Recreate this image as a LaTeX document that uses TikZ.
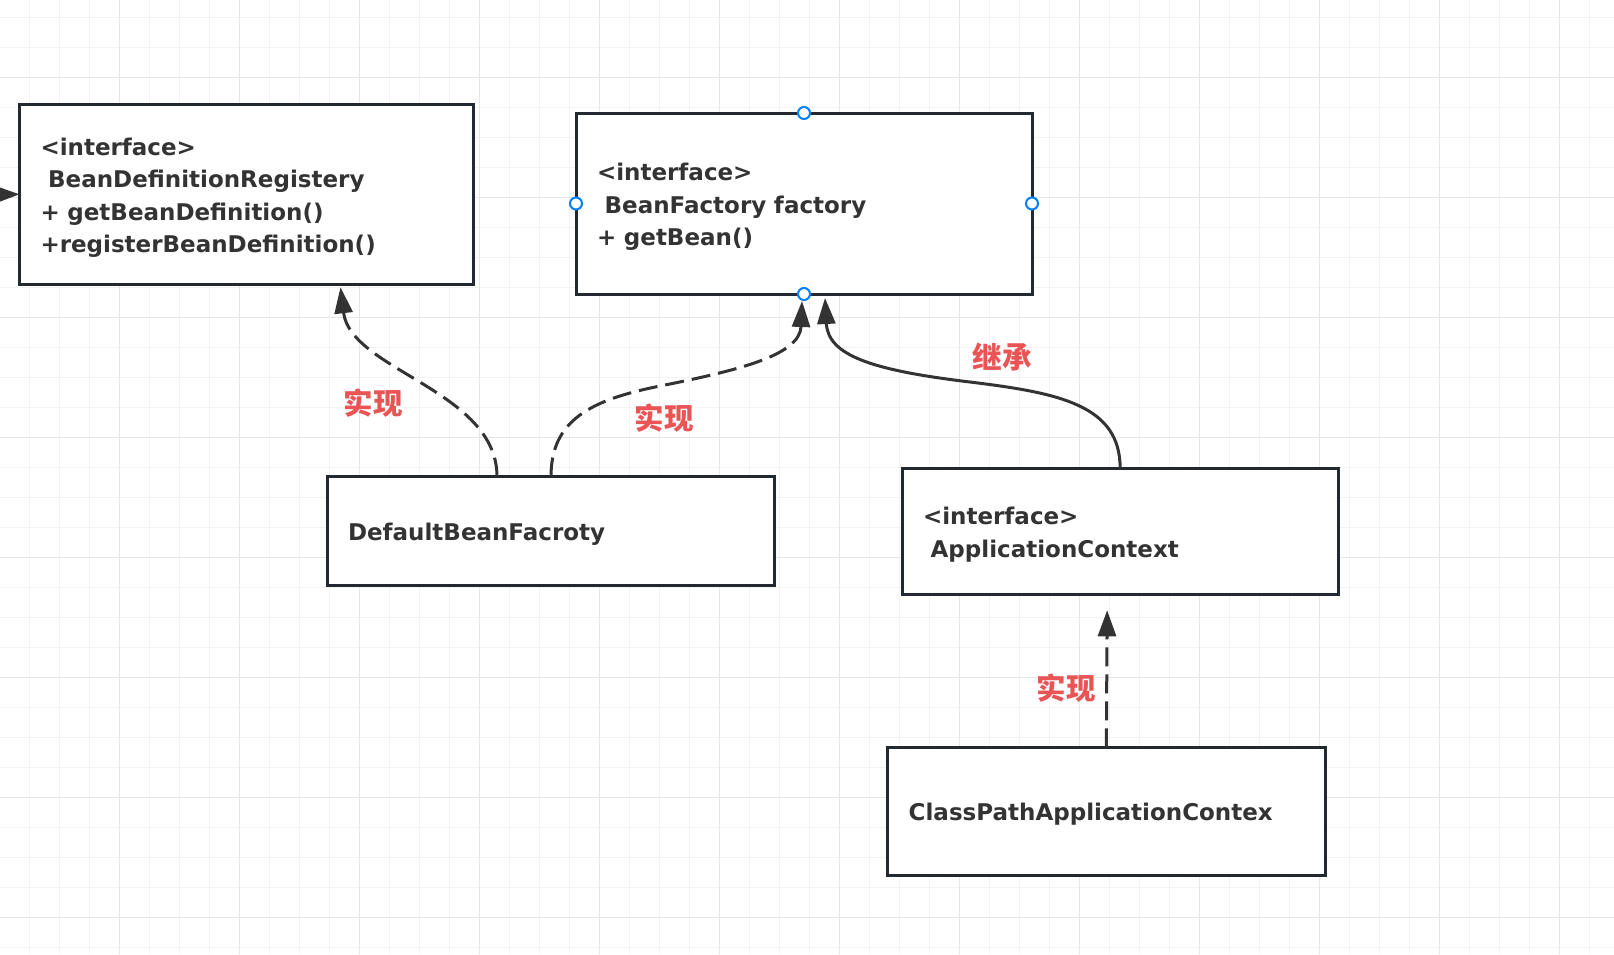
\documentclass[tikz,border=0pt]{standalone}
\usepackage{fontspec}
\setmainfont{DejaVu Sans}
\newfontfamily\cjk{Noto Sans CJK SC}
\usetikzlibrary{arrows.meta}
\definecolor{umlline}{RGB}{34,41,49}
\definecolor{umltext}{RGB}{51,51,51}
\definecolor{umledge}{RGB}{51,51,51}
\definecolor{umlred}{RGB}{234,84,85}
\definecolor{gridminor}{RGB}{243,243,243}
\definecolor{gridmajor}{RGB}{230,230,230}
\definecolor{handleblue}{RGB}{0,127,255}
\tikzset{
  iface/.style={
    draw=umlline,
    line width=3pt,
    fill=white,
    anchor=north west,
    align=left,
    inner xsep=21pt,
    inner ysep=0pt,
    outer sep=0pt,
    text=umltext,
    execute at begin node={\rule{0pt}{24pt}},
    font=\bfseries\fontsize{23}{32.5}\selectfont
  },
  tag/.style={
    text=umlred,
    inner sep=0pt,
    font=\cjk\bfseries\fontsize{29.5}{32}\selectfont
  },
  handle/.style={
    circle,
    draw=handleblue,
    fill=white,
    line width=2pt,
    minimum size=12pt,
    inner sep=0pt
  },
  arr/.style={-{Triangle[length=26pt,width=18pt]},line width=3pt,draw=umledge},
  implarr/.style={arr,dash pattern=on 19pt off 8pt}
}
\begin{document}
\begin{tikzpicture}[x=1pt,y=-1pt]
  \useasboundingbox (0,0) rectangle (1614,954);
  \clip (0,0) rectangle (1614,954);
  \fill[white] (0,0) rectangle (1614,954);
  % canvas grid
  \foreach \gx in {29.3,59.3,...,1614} \draw[gridminor,line width=1.5pt] (\gx,0) -- (\gx,954);
  \foreach \gy in {17.5,47.5,...,954} \draw[gridminor,line width=1.5pt] (0,\gy) -- (1614,\gy);
  \foreach \gx in {119.3,239.3,...,1614} \draw[gridmajor,line width=1.5pt] (\gx,0) -- (\gx,954);
  \foreach \gy in {77.5,197.5,...,954} \draw[gridmajor,line width=1.5pt] (0,\gy) -- (1614,\gy);

  \node[iface,text width=412pt,minimum height=180pt] (reg) at (19.5,104.3)
    {<interface>\\\ BeanDefinitionRegistery\\+ getBeanDefinition()\\+registerBeanDefinition()};
  \node[iface,text width=414pt,minimum height=181pt] (bf) at (576,113)
    {<interface>\\\ BeanFactory factory\\+ getBean()};
  \node[iface,text width=405.5pt,minimum height=108.5pt] (dbf) at (327,476.5)
    {DefaultBeanFacroty};
  \node[iface,text width=394.3pt,minimum height=126pt] (ac) at (902,468.3)
    {<interface>\\\ ApplicationContext};
  \node[iface,text width=395.3pt,minimum height=127.7pt] (cpac) at (887.7,747.3)
    {ClassPathApplicationContex};

  \coordinate (offleft) at (-40,195);
  \draw[arr] (offleft) -- (reg.west);
  \draw[implarr] ([xshift=170pt]dbf.north west) .. controls +(0,-86) and +(10,83) .. ([xshift=321pt,yshift=-3pt]reg.south west);
  \draw[implarr] ([xshift=224pt]dbf.north west) .. controls +(0,-56) and +(-70,14) .. (660,386)
    .. controls +(80,-16) and +(-2,54) .. ([xshift=-2pt,yshift=-7pt]bf.south);
  \draw[arr] (ac.north) .. controls +(0,-63) and +(90,11) .. (970,382)
    .. controls +(-100,-12) and +(3,57) .. ([xshift=21pt,yshift=-4pt]bf.south);
  \draw[implarr] (cpac.north) -- ([xshift=-13pt,yshift=-16pt]ac.south);

  \node[tag] (impl1) at (373,403) {实现};
  \node[tag] (impl2) at (664,418) {实现};
  \node[tag] (inherit) at (1002,357) {继承};
  \node[tag] (impl3) at (1066,688) {实现};

  % selection handles
  \node[handle] (hn) at (bf.north) {};
  \node[handle] (hw) at (bf.west) {};
  \node[handle] (he) at (bf.east) {};
  \node[handle] (hs) at (bf.south) {};
\end{tikzpicture}
\end{document}
